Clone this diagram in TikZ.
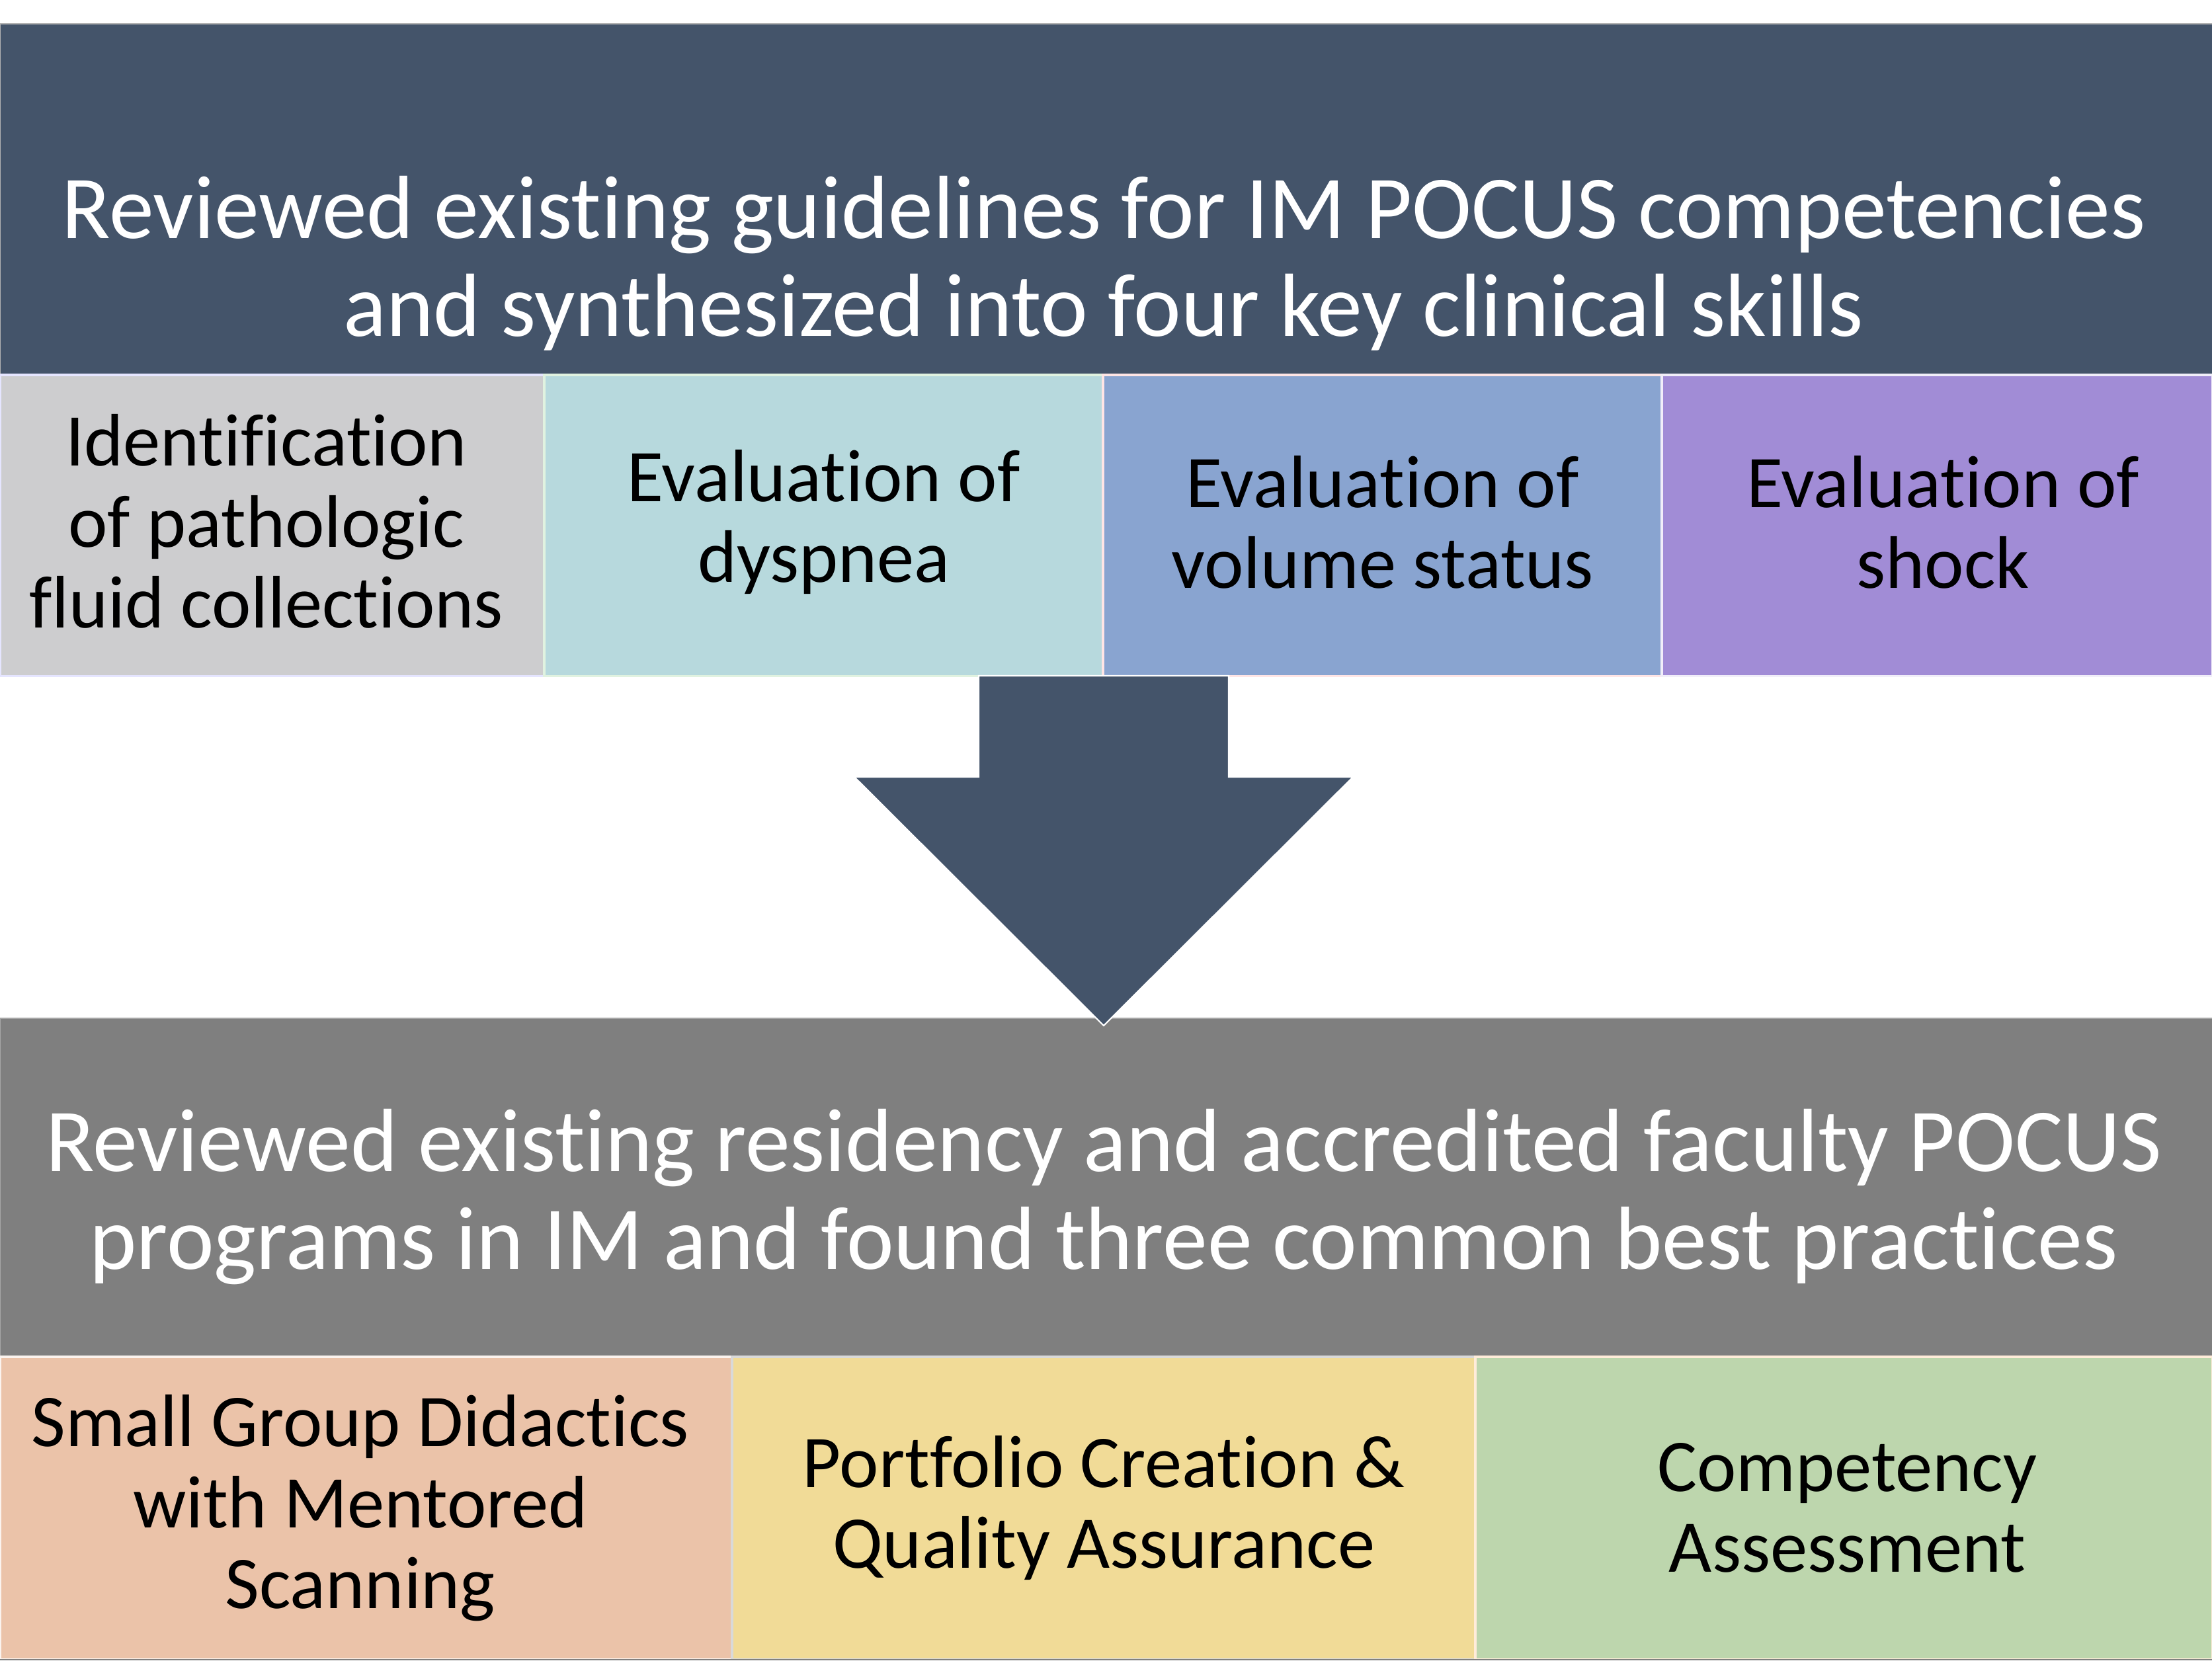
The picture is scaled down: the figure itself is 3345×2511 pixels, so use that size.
\documentclass[tikz,border=0pt]{standalone}
\usepackage{fontspec}
\setmainfont{Carlito}[RawFeature=-liga]
\definecolor{slateband}{HTML}{44546A}
\definecolor{greyband}{HTML}{7F7F7F}
\definecolor{skillgrey}{HTML}{CDCDCF}
\definecolor{skillteal}{HTML}{B7D9DD}
\definecolor{skillblue}{HTML}{89A4D0}
\definecolor{skillpurple}{HTML}{A18CD6}
\definecolor{practpeach}{HTML}{EBC3A9}
\definecolor{practyellow}{HTML}{F1DB97}
\definecolor{practgreen}{HTML}{BDD6AD}
\newcommand\headfont{\fontsize{38.6}{42}\selectfont}
\newcommand\cellfont{\fontsize{32}{34.8}\selectfont}
\tikzset{
  band/.style={rectangle, inner sep=0pt, outer sep=0pt, anchor=north west, minimum width=33.45cm},
  cell/.style={rectangle, inner sep=0pt, outer sep=0pt, anchor=north west, line width=0.9pt},
  celltext/.style={align=center, font=\cellfont, text=black, inner sep=0pt},
  headtext/.style={align=center, font=\headfont, text=white, inner sep=0pt},
}
\begin{document}
\begin{tikzpicture}[x=0.01cm,y=-0.01cm]
\useasboundingbox (0,0) rectangle (3345,2511);
\fill[white] (0,0) rectangle (3345,2511);

% upper band with the four clinical skills
\node[band, fill=slateband, draw=gray!60, line width=0.6pt, minimum height=5.31cm] (topband) at (0,36) {};
\node[headtext] (toptext) at (1669,398) {Reviewed existing guidelines for IM POCUS competencies\\and synthesized into four key clinical skills};

\node[cell, fill=skillgrey, draw=blue!10!white, minimum width=8.23cm, minimum height=4.55cm] (skillA) at (0,567) {};
\node[cell, fill=skillteal, draw=green!8!white!90!gray, minimum width=8.45cm, minimum height=4.55cm] (skillB) at (823,567) {};
\node[cell, fill=skillblue, draw=red!10!white, minimum width=8.45cm, minimum height=4.55cm] (skillC) at (1668,567) {};
\node[cell, fill=skillpurple, draw=white!85!skillpurple, minimum width=8.32cm, minimum height=4.55cm] (skillD) at (2513,567) {};
\node[celltext, xshift=-0.09cm, yshift=0.06cm] (skillAtext) at (skillA.center) {Identification\\of pathologic\\fluid collections};
\node[celltext, yshift=0.05cm] (skillBtext) at (skillB.center) {Evaluation of\\dyspnea};
\node[celltext, yshift=0.05cm] (skillCtext) at (skillC.center) {Evaluation of\\volume status};
\node[celltext, xshift=0.09cm, yshift=0.05cm] (skillDtext) at (skillD.center) {Evaluation of\\shock};

% lower band with the three best practices
\node[band, fill=greyband, draw=gray!70, line width=0.6pt, minimum height=5.12cm] (lowband) at (0,1540) {};
\node[headtext] (lowtext) at (1669,1810) {Reviewed existing residency and accredited faculty POCUS\\programs in IM and found three common best practices};

\node[cell, fill=practpeach, draw=white!80!practpeach, minimum width=11.07cm, minimum height=4.57cm] (practA) at (0,2052) {};
\node[cell, fill=practyellow, draw=gray!30, minimum width=11.24cm, minimum height=4.57cm] (practB) at (1107,2052) {};
\node[cell, fill=practgreen, draw=orange!15!white, minimum width=11.14cm, minimum height=4.57cm] (practC) at (2231,2052) {};
\node[celltext, xshift=-0.09cm] (practAtext) at (practA.center) {Small Group Didactics\\with Mentored\\Scanning};
\node[celltext] (practBtext) at (practB.center) {Portfolio Creation \&\\Quality Assurance};
\node[celltext, xshift=0.05cm] (practCtext) at (practC.center) {Competency\\Assessment};
\draw[gray, line width=0.6pt] (0,2510) -- (3345,2510);

% block arrow from the skills down to the practices
\coordinate (shaftTL) at (1480,1022);
\coordinate (shaftTR) at (1858,1022);
\coordinate (shaftBR) at (1858,1175);
\coordinate (headR) at (2046,1175);
\coordinate (tip) at (1669,1551);
\coordinate (headL) at (1292,1175);
\coordinate (shaftBL) at (1480,1175);
\filldraw[fill=slateband, draw=white, line width=0.6pt]
  (shaftTL) -- (shaftTR) -- (shaftBR) -- (headR) -- (tip) -- (headL) -- (shaftBL) -- cycle;
\end{tikzpicture}
\end{document}
